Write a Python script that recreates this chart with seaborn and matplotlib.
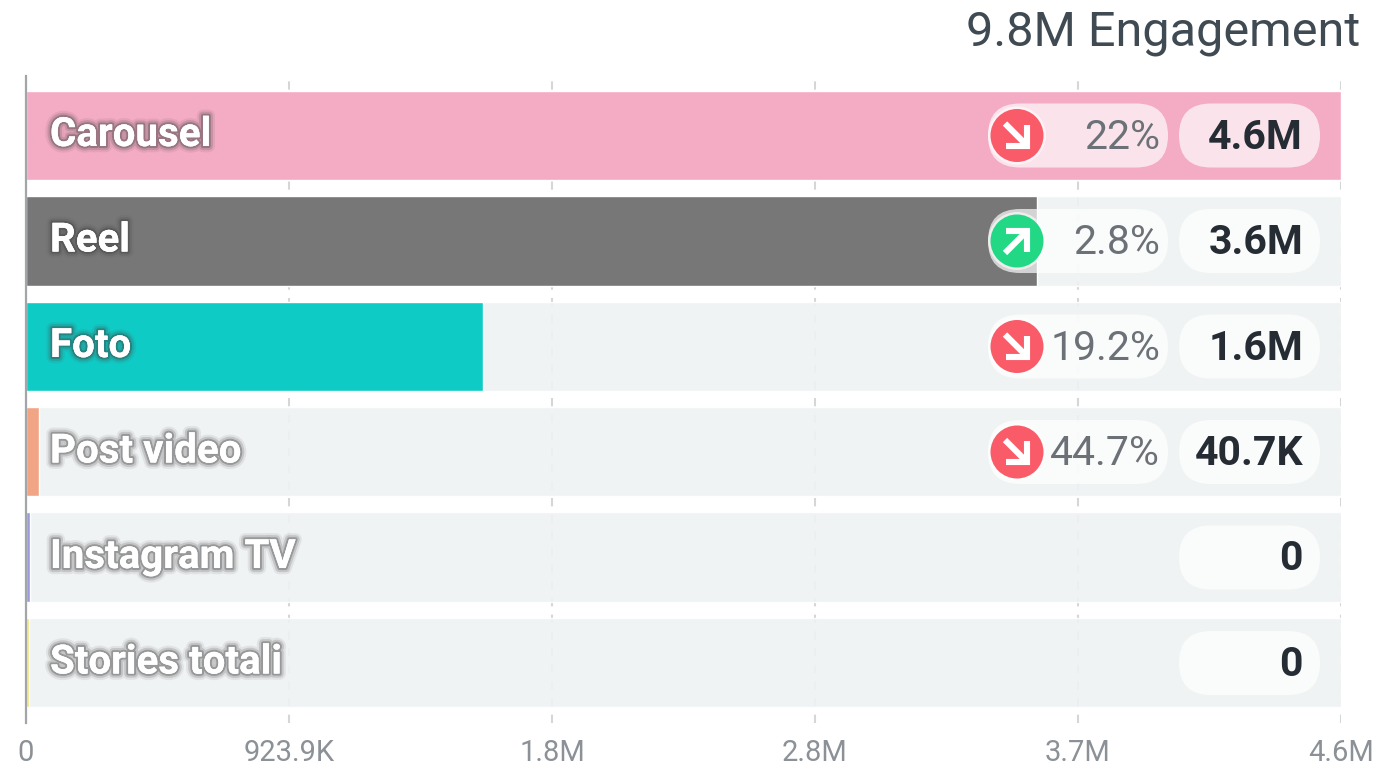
import pandas as pd
import matplotlib.pyplot as plt
import matplotlib.patheffects as pe
from matplotlib.patches import Circle, FancyBboxPatch
import seaborn as sns

sns.set_theme(style="white")
plt.rcParams["font.family"] = ["Roboto", "DejaVu Sans"]

categories = ["Carousel", "Reel", "Foto", "Post video", "Instagram TV", "Stories totali"]
values = [4619500, 3550000, 1606000, 46000, 14000, 10000]
value_labels = ["4.6M", "3.6M", "1.6M", "40.7K", "0", "0"]
changes = ["22%", "2.8%", "19.2%", "44.7%", None, None]
directions = ["down", "up", "down", "down", None, None]
colors = ["#f4abc4", "#777777", "#0ecbc5", "#f2a584", "#9a9bdc", "#f3e27c"]
tick_values = [0, 923900, 1847800, 2771700, 3695600, 4619500]
tick_labels = ["0", "923.9K", "1.8M", "2.8M", "3.7M", "4.6M"]
axis_max = 4619500

W, H = 1383, 779
ROW_TOP = 135.5
ROW_STEP = 105.5

df = pd.DataFrame({"category": categories, "value": values, "track": axis_max})

fig = plt.figure(figsize=(W / 100, H / 100), dpi=100)
ax = fig.add_axes([26 / W, 1 - 722.5 / H, (1341 - 26) / W, (722.5 - 75.5) / H])

sns.barplot(data=df, y="category", x="track", color="#eff2f4", width=0.85, saturation=1,
            alpha=0.92, zorder=2, ax=ax)
sns.barplot(data=df, y="category", x="value", hue="category", palette=colors, width=0.85,
            saturation=1, dodge=False, legend=False, zorder=3, ax=ax)

ax.set_xlim(0, axis_max)
ax.set_ylim(5.57, -0.57)
ax.set_xticks(tick_values)
ax.set_xticklabels(tick_labels, fontsize=21, color="#8b9196")
ax.set_yticks([])
ax.set_xlabel("")
ax.set_ylabel("")
ax.tick_params(axis="x", length=0, pad=12)
ax.grid(axis="x", color="#d4d6d8", linewidth=1.5, linestyle=(0, (4, 4)), zorder=0)
ax.set_axisbelow(True)
for name in ["top", "right", "bottom"]:
    ax.spines[name].set_visible(False)
ax.spines["left"].set_color("#a3a6a8")
ax.spines["left"].set_linewidth(1.6)
ax.spines["left"].set_zorder(5)

# pixel overlay for the pills and badges
over = fig.add_axes([0, 0, 1, 1])
over.set_xlim(0, W)
over.set_ylim(H, 0)
over.axis("off")
over.patch.set_alpha(0)


def pill(x0, x1, yc, h=64):
    r = h / 2
    over.add_patch(FancyBboxPatch((x0 + r, yc), x1 - x0 - 2 * r, 0.01,
                                  boxstyle=f"round,pad={r},rounding_size={r}",
                                  facecolor="white", edgecolor="none", alpha=0.68, zorder=2))


def badge(yc, direction):
    color = "#fa5b69" if direction == "down" else "#22d885"
    over.add_patch(Circle((1017, yc), 29, facecolor="white", edgecolor="none", alpha=0.6, zorder=3))
    over.add_patch(Circle((1017, yc), 26.5, facecolor=color, edgecolor="none", zorder=4))
    s = 1 if direction == "down" else -1
    over.plot([1017 - 12, 1017 + 8], [yc - s * 12, yc + s * 8], color="white", lw=4.4,
              solid_capstyle="butt", zorder=5)
    over.plot([1017 - 11, 1017 + 10, 1017 + 10], [yc + s * 10, yc + s * 10, yc - s * 11],
              color="white", lw=4.4, solid_joinstyle="miter", solid_capstyle="butt", zorder=5)


glow = [pe.withStroke(linewidth=9, foreground="#555555", alpha=0.10),
        pe.withStroke(linewidth=6, foreground="#444444", alpha=0.18),
        pe.withStroke(linewidth=3, foreground="#333333", alpha=0.30),
        pe.Normal()]

for i, name in enumerate(categories):
    yc = ROW_TOP + ROW_STEP * i
    over.text(50, yc + 10.5, name, color="white", fontsize=29, fontweight="bold",
              va="baseline", ha="left", path_effects=glow, zorder=6)
    pill(1179, 1320, yc)
    over.text(1303, yc + 13, value_labels[i], color="#252c33", fontsize=29.5, fontweight="bold",
              va="baseline", ha="right", zorder=6)
    if changes[i] is not None:
        pill(988, 1168, yc)
        badge(yc, directions[i])
        over.text(1160, yc + 13, changes[i], color="#6b7176", fontsize=29.5,
                  va="baseline", ha="right", zorder=6)

over.text(1360, 45, "9.8M Engagement", color="#3f4a53", fontsize=35, va="baseline", ha="right")

fig.savefig("out.png", dpi=100, facecolor="white")
